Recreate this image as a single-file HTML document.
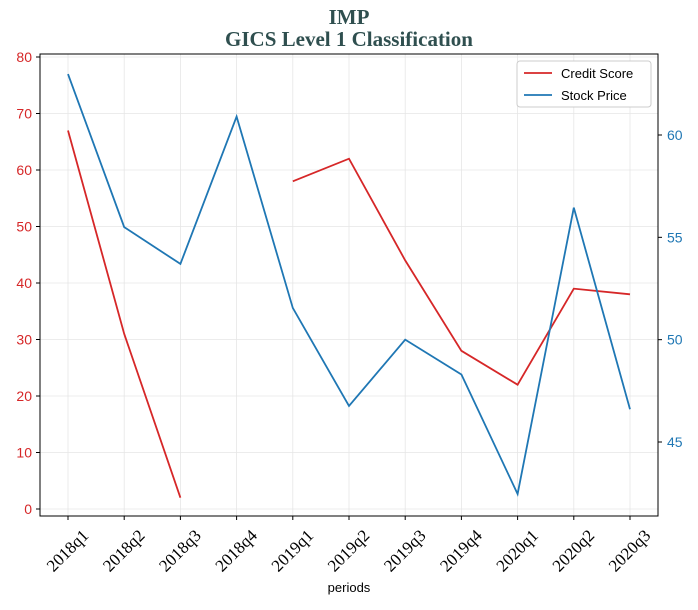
<!DOCTYPE html>
<html><head><meta charset="utf-8"><style>body{margin:0;background:#fff}</style></head>
<body>
<svg id="c" width="698" height="605" xmlns="http://www.w3.org/2000/svg"></svg>
<script>
const categories=["2018q1","2018q2","2018q3","2018q4","2019q1","2019q2","2019q3","2019q4","2020q1","2020q2","2020q3"];
const creditScore=[67,31,2,null,58,62,44,28,22,39,38];
const stockPrice=[62.98,55.5,53.7,60.9,51.55,46.76,50.0,48.3,42.46,56.45,46.6];
const leftTicks=[0,10,20,30,40,50,60,70,80];
const rightTicks=[45,50,55,60];
const svg=document.getElementById('c');const NS="http://www.w3.org/2000/svg";
function el(t,a,txt){const e=document.createElementNS(NS,t);for(const k in a)e.setAttribute(k,a[k]);if(txt!==undefined)e.textContent=txt;svg.appendChild(e);return e;}
const L=40,R=658,T=54,B=516;
const x=i=>68+i*(630-68)/(categories.length-1);
const yL=v=>509-v*(509-57)/80;
const yR=v=>135+(60-v)*(442-135)/15;
categories.forEach((c,i)=>{const g=el('line',{x1:x(i),x2:x(i),y1:T,y2:B,stroke:'#e6e6e6','stroke-width':0.8});});
leftTicks.forEach(v=>{const g=el('line',{x1:L,x2:R,y1:yL(v),y2:yL(v),stroke:'#e6e6e6','stroke-width':0.8});});
const fr=el('rect',{x:L,y:T,width:R-L,height:B-T,fill:'none',stroke:'#000','stroke-width':1});

leftTicks.forEach(v=>{el('line',{x1:L-4,x2:L,y1:yL(v),y2:yL(v),stroke:'#000'});const t=el('text',{x:L-8,y:yL(v)+5,'text-anchor':'end',fill:'#d62728','font-family':'Liberation Sans, sans-serif','font-size':14},v);});
rightTicks.forEach(v=>{el('line',{x1:R,x2:R+4,y1:yR(v),y2:yR(v),stroke:'#000'});const t=el('text',{x:R+9,y:yR(v)+5,fill:'#1f77b4','font-family':'Liberation Sans, sans-serif','font-size':14},v);});
categories.forEach((c,i)=>{el('line',{x1:x(i),x2:x(i),y1:B,y2:B+4,stroke:'#000'});const cx=x(i),cy=B+35;const t=el('text',{x:cx,y:cy+5,'text-anchor':'middle',transform:`rotate(-45 ${cx} ${cy})`,'font-family':'Liberation Serif, serif','font-size':17,fill:'#000'},c);});
function segs(arr,yf){let out=[],cur=[];arr.forEach((v,i)=>{if(v===null){if(cur.length)out.push(cur);cur=[];}else cur.push(x(i)+','+yf(v));});if(cur.length)out.push(cur);return out;}
segs(creditScore,yL).forEach(s=>{const p=el('polyline',{points:s.join(' '),fill:'none',stroke:'#d62728','stroke-width':1.8});});
segs(stockPrice,yR).forEach(s=>{const p=el('polyline',{points:s.join(' '),fill:'none',stroke:'#1f77b4','stroke-width':1.8});});
let t=el('text',{x:349,y:24,'text-anchor':'middle','font-family':'Liberation Serif, serif','font-weight':'bold','font-size':21,fill:'#2f4f4f'},'IMP');
t=el('text',{x:349,y:46,'text-anchor':'middle','font-family':'Liberation Serif, serif','font-weight':'bold','font-size':21,fill:'#2f4f4f'},'GICS Level 1 Classification');
t=el('text',{x:349,y:592,'text-anchor':'middle','font-family':'Liberation Sans, sans-serif','font-size':13,fill:'#000'},'periods');
const lg=el('rect',{x:517,y:61,width:134,height:46,rx:3,fill:'#fff',stroke:'#ccc'});
el('line',{x1:524,x2:552,y1:73,y2:73,stroke:'#d62728','stroke-width':1.8});
t=el('text',{x:561,y:78,'font-family':'Liberation Sans, sans-serif','font-size':13},'Credit Score');
el('line',{x1:524,x2:552,y1:95,y2:95,stroke:'#1f77b4','stroke-width':1.8});
t=el('text',{x:561,y:100,'font-family':'Liberation Sans, sans-serif','font-size':13},'Stock Price');
</script>
</body></html>
